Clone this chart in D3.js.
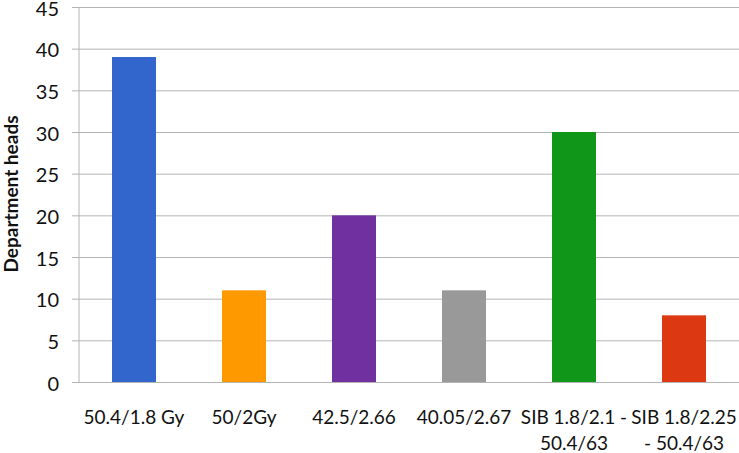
<!DOCTYPE html>
<html>

<head>
    <script src="https://d3js.org/d3.v7.min.js"></script>
    <style>
        body { margin: 0; background: #fff; }
        text { font-family: Lato, "Open Sans", sans-serif; fill: #111; }
        .gridlines .domain { display: none; }
        .gridlines line { stroke: #b4b4b4; }
        .axis .domain { display: none; }
        .axis line { display: none; }
    </style>
</head>

<body>
    <svg id="chart" width="739" height="453"></svg>

    <script>
        // chart data
        const categories = ["50.4/1.8 Gy", "50/2Gy", "42.5/2.66", "40.05/2.67", "SIB 1.8/2.1 - 50.4/63", "SIB 1.8/2.25 - 50.4/63"];
        const labelLines = [["50.4/1.8 Gy"], ["50/2Gy"], ["42.5/2.66"], ["40.05/2.67"], ["SIB 1.8/2.1 -", "50.4/63"], ["SIB 1.8/2.25", "- 50.4/63"]];
        const values = [39, 11, 20, 11, 30, 8];
        const colors = ["#3366cc", "#ff9900", "#7030a0", "#999999", "#109618", "#dc3912"];
        const yTicks = [0, 5, 10, 15, 20, 25, 30, 35, 40, 45];
        const yTitle = "Department heads";

        const svg = d3.select("#chart");
        const margin = { top: 7, right: 0, bottom: 71, left: 79 };
        const width = +svg.attr("width");
        const height = +svg.attr("height");
        const chartWidth = width - margin.left - margin.right;
        const chartHeight = height - margin.top - margin.bottom;

        const chart = svg.append("g")
            .attr("transform", `translate(${margin.left},${margin.top})`);

        const x = d3.scaleBand().domain(categories).range([0, chartWidth]).paddingInner(0.6).paddingOuter(0.3);
        const y = d3.scaleLinear().domain([0, 45]).range([chartHeight, 0]);

        // gridlines, extending a little left of the axis like tick marks
        chart.append("g")
            .attr("class", "gridlines")
            .attr("transform", "translate(-7,0)")
            .call(d3.axisLeft(y).tickValues(yTicks).tickSize(-chartWidth - 7).tickFormat(""));

        // vertical axis line
        chart.append("line")
            .attr("x1", 0).attr("x2", 0)
            .attr("y1", 0).attr("y2", chartHeight)
            .attr("stroke", "#b4b4b4");

        // y tick labels
        const yAxis = chart.append("g")
            .attr("class", "axis")
            .attr("transform", "translate(-20,0)")
            .call(d3.axisLeft(y).tickValues(yTicks).tickSize(0).tickPadding(0));
        yAxis.selectAll("text")
            .style("font-size", "20px")
            .style("font-family", "Lato, sans-serif")
            .attr("dy", "0.4em")
            .attr("fill", "#111");

        // bars
        chart.selectAll("rect.bar").data(values)
            .join("rect")
            .attr("class", "bar")
            .attr("x", (d, i) => x(categories[i]))
            .attr("width", x.bandwidth())
            .attr("y", d => y(d))
            .attr("height", d => chartHeight - y(d))
            .attr("fill", (d, i) => colors[i]);

        // x labels, wrapped
        const xAxis = chart.append("g")
            .attr("class", "axis")
            .attr("transform", `translate(0,${chartHeight})`)
            .call(d3.axisBottom(x).tickSize(0).tickFormat(""));

        xAxis.selectAll(".tick").each(function (d, i) {
            const t = d3.select(this).append("text")
                .attr("text-anchor", "middle")
                .style("font-size", "19px")
                .attr("y", 42);
            labelLines[i].forEach((line, j) => {
                t.append("tspan")
                    .attr("x", 0)
                    .attr("dy", j === 0 ? 0 : 26)
                    .text(line);
            });
        });

        // y title
        svg.append("text")
            .attr("transform", `translate(18,${margin.top + 187}) rotate(-90)`)
            .attr("text-anchor", "middle")
            .style("font-size", "19px")
            .style("font-weight", "bold")
            .text(yTitle);
    </script>

</body>

</html>
